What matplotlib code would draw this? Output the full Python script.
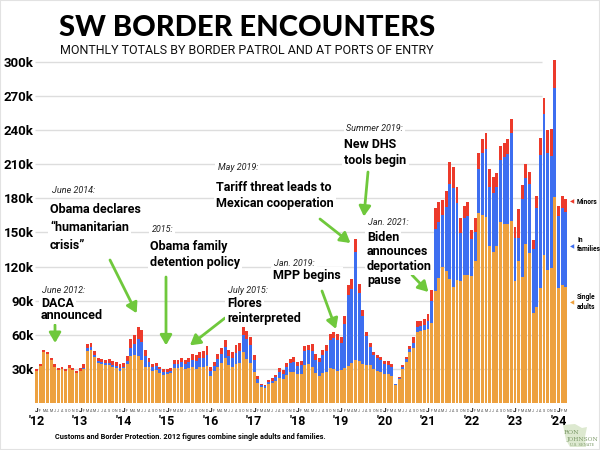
import numpy as np
import matplotlib.pyplot as plt
from matplotlib.patches import Rectangle, Polygon

plt.rcParams['font.family'] = ['Roboto', 'DejaVu Sans']

# monthly encounters, thousands, Jan 2012 - Mar 2024
year_labels = ["'12", "'13", "'14", "'15", "'16", "'17", "'18",
               "'19", "'20", "'21", "'22", "'23", "'24"]
month_letters = ['J', 'F', 'M', 'A', 'M', 'J', 'J', 'A', 'S', 'O', 'N', 'D']

single_adults = [
    28.5, 32.5, 45, 43, 37.5, 31.5, 29, 30, 28, 30.5, 29, 26,                 # 2012
    28, 30, 46, 47, 40.5, 35.5, 34.5, 33, 33.5, 31.5, 30.5, 28.5,             # 2013
    30.5, 34, 41.5, 42, 41, 37.5, 31.5, 31.5, 28.5, 29, 26.5, 24.5,           # 2014
    25.5, 26, 30.5, 30.5, 32, 29.5, 31, 31.5, 30, 32, 32, 32.5,               # 2015
    24.1, 27.8, 31.7, 35.2, 39.5, 33.5, 31.6, 34.2, 35, 44.7, 38.9, 34.9,     # 2016
    27.5, 18, 14.1, 13.5, 16.4, 17.4, 19, 22.1, 20.8, 24.3, 26.9, 27.4,       # 2017
    25.6, 25.4, 33.5, 33.9, 32, 26.6, 24, 26.4, 27.7, 30.4, 29.7, 28.5,       # 2018
    29.2, 30.7, 32.8, 35.3, 37.6, 36.9, 34.5, 33.7, 33.2, 29.9, 28.3, 27.4,   # 2019
    25.9, 25.6, 23.9, 15.7, 21.2, 29.7, 36.3, 44.5, 48.7, 62.6, 63.1, 64.4,   # 2020
    65, 70, 98.5, 109.6, 120, 116.4, 109.4, 102.3, 108.2, 107.3, 112.6, 112.6,
    111.7, 124.9, 166.8, 165.3, 163.3, 138.4, 132.5, 138.4, 159.5, 157.4, 157.4, 160.1,
    107.3, 124.9, 110.5, 139.8, 131.6, 79.4, 84.7, 100.8, 130.2, 117, 118.4, 181.4,
    100.8, 103.8, 101.7,                                                      # 2024
]

in_families = [
    0, 0, 0, 0, 0, 0, 0, 0, 0, 0, 0, 0,
    0.5, 1, 2, 2, 2, 1.5, 1.5, 2, 2, 2, 2, 2,
    1.5, 3, 7, 10, 15, 16, 10, 5, 3, 3.5, 3, 3,
    2, 2.5, 4, 4, 4.5, 5, 5, 6.5, 7, 7.5, 8, 10,
    4, 5, 7, 8, 10, 8, 8, 10, 11, 15, 17, 16,
    10, 3.5, 1.5, 1.3, 2, 2.3, 3.5, 5, 4.8, 7, 8, 9,
    7, 8, 12.5, 13, 13.5, 11.5, 12, 16, 18, 25, 27.5, 27,
    24, 39, 62, 65, 95, 60, 42, 25, 16, 12, 11, 10,
    8, 8, 7.5, 0.7, 1, 1.7, 2.5, 2.9, 4.2, 4.6, 4.6, 4.6,
    7.3, 20, 54.2, 49.9, 45, 55.7, 83.2, 86.5, 67.4, 42.5, 49.8, 52.2,
    32.2, 25.8, 38.7, 54.3, 59.8, 51.9, 51.9, 51.9, 54.2, 59.3, 61.6, 77.1,
    38.1, 20.5, 68.6, 58.4, 61, 55.8, 86.5, 117.3, 124, 102.6, 98.8, 95.4,
    63.7, 67.4, 66.6,
]

minors = [
    1.5, 1.5, 2, 2, 2.5, 2.5, 2, 2, 2, 2.5, 2, 2,
    2.5, 3, 4, 4, 3.5, 3, 3, 3, 3.5, 3.5, 3.5, 3.5,
    3, 4, 7.5, 8, 11, 10.5, 5.5, 3.5, 2.5, 2.5, 2.5, 2.5,
    2.5, 2.5, 3.5, 3.5, 3.5, 3.5, 4, 5, 5, 5.5, 6, 7.5,
    3.5, 3.5, 4.5, 5, 6, 5.5, 5.5, 6.5, 6.5, 7, 7.5, 7.5,
    4.5, 2, 1, 1, 1.5, 2, 2.5, 3.5, 3.3, 3.6, 4.1, 4.1,
    3.2, 3.3, 4.3, 4.3, 6.4, 5.1, 4, 4.3, 4.9, 5.3, 5.3, 5.3,
    5.1, 6.8, 8.9, 9.1, 11.5, 7.4, 5.5, 4, 3.3, 3.3, 3.3, 3.2,
    2.7, 3.1, 3.1, 0.7, 1, 1.6, 2.1, 2.6, 4.8, 4.7, 4.4, 4.9,
    5.9, 9.4, 18.5, 17.6, 13.7, 14.7, 19.1, 19.1, 14.7, 12.6, 11, 12.3,
    8.3, 12.3, 14.1, 12.6, 14.7, 15.5, 14.1, 11.7, 12.3, 12.3, 13.2, 12.6,
    9.1, 24.9, 12.6, 11.7, 10.3, 8.2, 11.2, 14.7, 13.8, 20.5, 23.5, 24.9,
    8.8, 10.9, 10.8,
]

grid_vals = [30, 60, 90, 120, 150, 180, 210, 240, 270, 300]
grid_labels = ['30k', '60k', '90k', '120k', '150k', '180k', '210k', '240k', '270k', '300k']

ORANGE = '#EDA13F'
BLUE = '#3D6EF0'
RED = '#EC3A2B'
GREEN = '#6FC83C'


def fpos(x, y):
    # pixel position in the 600x450 picture -> figure fraction
    return x / 600, 1 - y / 450


adults = np.array(single_adults)
fam = np.array(in_families)
kids = np.array(minors)
n = len(adults)
x = np.arange(n)

fig = plt.figure(figsize=(6, 4.5), dpi=100)
ax = fig.add_axes([0.058, 0.1044, 0.891, 0.7834])
ax.set_xlim(-0.5, n)
ax.set_ylim(0, 310)

ax.hlines(grid_vals, -0.5, 139.5, color='#dddddd', lw=1, zorder=0)
ax.bar(x, adults, width=0.8, color=ORANGE, zorder=2)
ax.bar(x, fam, width=0.8, bottom=adults, color=BLUE, zorder=2)
ax.bar(x, kids, width=0.8, bottom=adults + fam, color=RED, zorder=2)

ax.set_yticks(grid_vals)
ax.set_yticklabels(grid_labels, fontsize=9.5, fontweight='bold')
ax.tick_params(axis='y', length=0, pad=1)
ax.set_xticks([])
for s in ax.spines.values():
    s.set_visible(False)

# month letters + years under the bars
trans = ax.get_xaxis_transform()
for i in range(n):
    m = month_letters[i % 12]
    if i % 12 == 0:
        ax.text(i, -0.022, m, transform=trans, ha='center', va='center',
                fontsize=4.5, fontweight='bold')
        ax.text(i, -0.052, year_labels[i // 12], transform=trans, ha='center',
                va='center', fontsize=9, fontweight='bold')
    else:
        ax.text(i, -0.022, m, transform=trans, ha='center', va='center',
                fontsize=2.6, color='#444444')

# titles
fig.text(*fpos(247, 28), 'SW BORDER ENCOUNTERS', ha='center', va='center',
         fontsize=21, fontweight='black', family=['Lato', 'Roboto', 'DejaVu Sans'])
fig.text(*fpos(247, 50), 'MONTHLY TOTALS BY BORDER PATROL AND AT PORTS OF ENTRY',
         ha='center', va='center', fontsize=9, color='#111111')

# annotations: (x, baseline of date, date, baseline of lines, lines)
box = dict(facecolor='white', edgecolor='none', pad=1.5)
notes = [
    (41, 292.7, 'June 2012:', [307.3, 319.3], ['DACA', 'announced']),
    (50, 193, 'June 2014:', [213, 231, 249], ['Obama declares', '\u201chumanitarian', 'crisis\u201d']),
    (150, 232, '2015:', [250, 266], ['Obama family', 'detention policy']),
    (227, 293.3, 'July 2015:', [306.7, 321.7], ['Flores', 'reinterpreted']),
    (272.7, 266, 'Jan. 2019:', [279.3], ['MPP begins']),
    (216, 170, 'May 2019:', [190.7, 206.7], ['Tariff threat leads to', 'Mexican cooperation']),
    (344.5, 131, 'Summer 2019:', [148, 164], ['New DHS', 'tools begin']),
    (367, 224.7, 'Jan. 2021:', [240.7, 255, 270, 284], ['Biden', 'announces', 'deportation', 'pause']),
]
for nx, dy, date, ys, lines in notes:
    fig.text(*fpos(nx + 1.5, dy), date, fontsize=6.5, style='italic',
             color='#222222', va='baseline', bbox=box)
    for ly, line in zip(ys, lines):
        fig.text(*fpos(nx, ly), line, fontsize=9, fontweight='bold',
                 va='baseline', bbox=box)

# green arrows: head in data units, tail in picture pixels
arrows = [
    ((5.1, 52.8), (55, 325)),
    ((27.6, 78.9), (110, 260)),
    ((35.7, 50.7), (166, 277)),
    ((42.3, 50.7), (225, 318)),
    ((82.6, 65.1), (322, 291)),
    ((86.6, 140.7), (320, 219)),
    ((90.3, 164), (368, 172)),
    ((108.1, 97.6), (412, 275)),
]
for head, tail in arrows:
    ax.annotate('', xy=head, xycoords='data', xytext=fpos(*tail),
                textcoords='figure fraction', annotation_clip=False,
                arrowprops=dict(arrowstyle='-|>,head_length=0.6,head_width=0.35',
                                color=GREEN, lw=2, shrinkA=0, shrinkB=0))

# series labels on the right
fig.text(*fpos(570, 202), '\u25c0', color=RED, fontsize=4, va='center', family='DejaVu Sans')
fig.text(*fpos(577, 202), 'Minors', fontsize=4.8, fontweight='bold', va='center')
fig.text(*fpos(570, 247), '\u25c0', color=BLUE, fontsize=4, va='center', family='DejaVu Sans')
fig.text(*fpos(577, 240), 'In', fontsize=4.8, fontweight='bold', va='center')
fig.text(*fpos(577, 249), 'families', fontsize=4.8, fontweight='bold', va='center')
fig.text(*fpos(570, 303), '\u25c0', color=ORANGE, fontsize=4, va='center', family='DejaVu Sans')
fig.text(*fpos(577, 297), 'Single', fontsize=4.8, fontweight='bold', va='center')
fig.text(*fpos(577, 307), 'adults', fontsize=4.8, fontweight='bold', va='center')

fig.text(*fpos(55, 437), 'Customs and Border Protection. 2012 figures combine single adults and families.',
         fontsize=5.3, fontweight='bold', va='center')

# logo
shape = [fpos(*p) for p in [(563, 425), (575, 424), (582, 428), (587, 427), (585, 437),
                            (586, 447), (570, 447), (566, 440)]]
fig.patches.append(Polygon(shape, closed=True, transform=fig.transFigure,
                           facecolor='#dde9d0', edgecolor='none'))
fig.text(*fpos(571, 433), 'RON', fontsize=4.6, color='#7a9866', family='DejaVu Serif',
         ha='center', va='center')
fig.text(*fpos(582, 440), 'JOHNSON', fontsize=4.2, color='#7a9866', family='DejaVu Serif',
         ha='center', va='center')
fig.text(*fpos(582, 445.5), 'U.S. SENATE', fontsize=2.6, color='#7a9866',
         family='DejaVu Serif', ha='center', va='center')

fig.patches.append(Rectangle((0, 0), 1, 1, transform=fig.transFigure, fill=False,
                             edgecolor='#e2e2e2', lw=1.5))

fig.savefig('out.png', dpi=100)
